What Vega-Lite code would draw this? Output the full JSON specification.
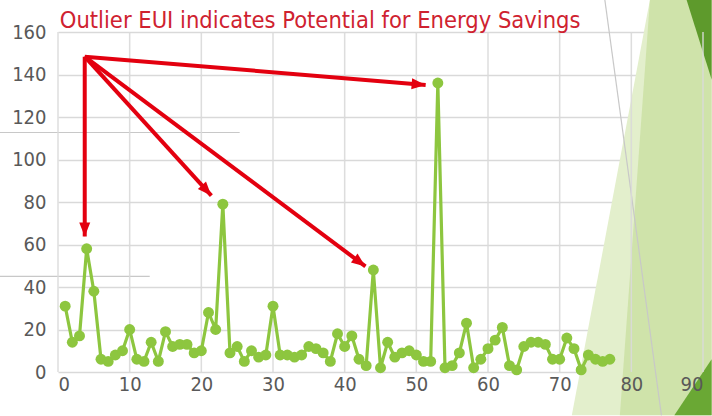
{
  "$schema": "https://vega.github.io/schema/vega-lite/v6.json",
  "autosize": "none",
  "width": 645,
  "height": 340,
  "padding": {"left": 58, "top": 32, "right": 9, "bottom": 44},
  "background": "white",
  "config": {
    "view": {"stroke": null},
    "axis": {
      "labelFont": "DejaVu Sans Condensed",
      "labelFontSize": 20,
      "labelColor": "#595959",
      "gridColor": "#d9d9d9",
      "gridWidth": 1.5,
      "domain": false,
      "ticks": false,
      "title": null
    }
  },
  "datasets": {
    "eui": [
      {"building": 1, "eui": 31}, {"building": 2, "eui": 14}, {"building": 3, "eui": 17},
      {"building": 4, "eui": 58}, {"building": 5, "eui": 38}, {"building": 6, "eui": 6},
      {"building": 7, "eui": 5}, {"building": 8, "eui": 8}, {"building": 9, "eui": 10},
      {"building": 10, "eui": 20}, {"building": 11, "eui": 6}, {"building": 12, "eui": 5},
      {"building": 13, "eui": 14}, {"building": 14, "eui": 5}, {"building": 15, "eui": 19},
      {"building": 16, "eui": 12}, {"building": 17, "eui": 13}, {"building": 18, "eui": 13},
      {"building": 19, "eui": 9}, {"building": 20, "eui": 10}, {"building": 21, "eui": 28},
      {"building": 22, "eui": 20}, {"building": 23, "eui": 79}, {"building": 24, "eui": 9},
      {"building": 25, "eui": 12}, {"building": 26, "eui": 5}, {"building": 27, "eui": 10},
      {"building": 28, "eui": 7}, {"building": 29, "eui": 8}, {"building": 30, "eui": 31},
      {"building": 31, "eui": 8}, {"building": 32, "eui": 8}, {"building": 33, "eui": 7},
      {"building": 34, "eui": 8}, {"building": 35, "eui": 12}, {"building": 36, "eui": 11},
      {"building": 37, "eui": 9}, {"building": 38, "eui": 5}, {"building": 39, "eui": 18},
      {"building": 40, "eui": 12}, {"building": 41, "eui": 17}, {"building": 42, "eui": 6},
      {"building": 43, "eui": 3}, {"building": 44, "eui": 48}, {"building": 45, "eui": 2},
      {"building": 46, "eui": 14}, {"building": 47, "eui": 7}, {"building": 48, "eui": 9},
      {"building": 49, "eui": 10}, {"building": 50, "eui": 8}, {"building": 51, "eui": 5},
      {"building": 52, "eui": 5}, {"building": 53, "eui": 136}, {"building": 54, "eui": 2},
      {"building": 55, "eui": 3}, {"building": 56, "eui": 9}, {"building": 57, "eui": 23},
      {"building": 58, "eui": 2}, {"building": 59, "eui": 6}, {"building": 60, "eui": 11},
      {"building": 61, "eui": 15}, {"building": 62, "eui": 21}, {"building": 63, "eui": 3},
      {"building": 64, "eui": 1}, {"building": 65, "eui": 12}, {"building": 66, "eui": 14},
      {"building": 67, "eui": 14}, {"building": 68, "eui": 13}, {"building": 69, "eui": 6},
      {"building": 70, "eui": 6}, {"building": 71, "eui": 16}, {"building": 72, "eui": 11},
      {"building": 73, "eui": 1}, {"building": 74, "eui": 8}, {"building": 75, "eui": 6},
      {"building": 76, "eui": 5}, {"building": 77, "eui": 6}
    ],
    "arrows": [
      {"target": "b4", "x0": 3.73, "y0": 148.4, "x1": 3.73, "y1": 63.8},
      {"target": "b23", "x0": 3.73, "y0": 148.4, "x1": 21.4, "y1": 83},
      {"target": "b44", "x0": 3.73, "y0": 148.4, "x1": 42.9, "y1": 49.7},
      {"target": "b53", "x0": 3.73, "y0": 148.4, "x1": 51.3, "y1": 135.1}
    ],
    "backdrop": [
      {"part": "light", "bx": 71.7, "top": -20.4, "bottom": -20.4},
      {"part": "light", "bx": 82.6, "top": 175.2, "bottom": -20.4},
      {"part": "light", "bx": 91.2, "top": 175.2, "bottom": -20.4},
      {"part": "mid", "bx": 78.4, "top": -20.4, "bottom": -20.4},
      {"part": "mid", "bx": 82.6, "top": 175.2, "bottom": -20.4},
      {"part": "mid", "bx": 91.2, "top": 175.2, "bottom": -20.4},
      {"part": "darktop", "bx": 87.7, "top": 175.2, "bottom": 175.2},
      {"part": "darktop", "bx": 91.2, "top": 175.2, "bottom": 137.6},
      {"part": "darkbottom", "bx": 86.0, "top": -20.4, "bottom": -20.4},
      {"part": "darkbottom", "bx": 91.2, "top": 6.0, "bottom": -20.4}
    ],
    "strokes": [
      {"sx": 76.3, "sy": 175.2, "sx2": 84.2, "sy2": -20.4},
      {"sx": -8.13, "sy": 112.7, "sx2": 25.35, "sy2": 112.7},
      {"sx": -8.13, "sy": 45.0, "sx2": 12.8, "sy2": 45.0}
    ],
    "grid": [{"g": 0}, {"g": 10}, {"g": 20}, {"g": 30}, {"g": 40}, {"g": 50}, {"g": 60}, {"g": 70}, {"g": 80}, {"g": 90}],
    "heading": [{"label": "Outlier EUI indicates Potential for Energy Savings", "hx": 0.25, "hy": 162}]
  },
  "layer": [
    {
      "data": {"name": "backdrop"},
      "transform": [{"filter": "datum.part == 'light'"}],
      "mark": {"type": "area", "color": "#e3efcc", "opacity": 1},
      "encoding": {
        "x": {"field": "bx", "type": "quantitative", "scale": {"domain": [0, 90]}, "axis": {"values": [0,10,20,30,40,50,60,70,80,90], "labelPadding": 2, "zindex": 1, "grid": false}},
        "y": {"field": "top", "type": "quantitative", "scale": {"domain": [0, 160]}, "axis": {"values": [0,20,40,60,80,100,120,140,160], "labelPadding": 12}},
        "y2": {"field": "bottom"}
      }
    },
    {
      "data": {"name": "backdrop"},
      "transform": [{"filter": "datum.part == 'mid'"}],
      "mark": {"type": "area", "color": "#cfe3aa", "opacity": 1},
      "encoding": {
        "x": {"field": "bx", "type": "quantitative"},
        "y": {"field": "top", "type": "quantitative"},
        "y2": {"field": "bottom"}
      }
    },
    {
      "data": {"name": "backdrop"},
      "transform": [{"filter": "datum.part == 'darktop'"}],
      "mark": {"type": "area", "color": "#5e9a2c", "opacity": 1},
      "encoding": {
        "x": {"field": "bx", "type": "quantitative"},
        "y": {"field": "top", "type": "quantitative"},
        "y2": {"field": "bottom"}
      }
    },
    {
      "data": {"name": "backdrop"},
      "transform": [{"filter": "datum.part == 'darkbottom'"}],
      "mark": {"type": "area", "color": "#6aa834", "opacity": 1},
      "encoding": {
        "x": {"field": "bx", "type": "quantitative"},
        "y": {"field": "top", "type": "quantitative"},
        "y2": {"field": "bottom"}
      }
    },
    {
      "data": {"name": "strokes"},
      "mark": {"type": "rule", "color": "#c8c8c8", "strokeWidth": 1.2},
      "encoding": {
        "x": {"field": "sx", "type": "quantitative"},
        "y": {"field": "sy", "type": "quantitative"},
        "x2": {"field": "sx2"},
        "y2": {"field": "sy2"}
      }
    },
    {
      "data": {"name": "grid"},
      "mark": {"type": "rule", "color": "#d9d9d9", "strokeWidth": 1.5, "opacity": 0.9},
      "encoding": {
        "x": {"field": "g", "type": "quantitative"}
      }
    },
    {
      "data": {"name": "heading"},
      "mark": {"type": "text", "align": "left", "baseline": "alphabetic", "font": "DejaVu Sans Condensed", "fontSize": 23.5, "color": "#cf2230"},
      "encoding": {
        "x": {"field": "hx", "type": "quantitative"},
        "y": {"field": "hy", "type": "quantitative"},
        "text": {"field": "label"}
      }
    },
    {
      "data": {"name": "eui"},
      "mark": {"type": "line", "color": "#8dc63f", "strokeWidth": 3.2},
      "encoding": {
        "x": {"field": "building", "type": "quantitative"},
        "y": {"field": "eui", "type": "quantitative"}
      }
    },
    {
      "data": {"name": "eui"},
      "mark": {"type": "point", "filled": true, "color": "#8dc63f", "size": 120, "opacity": 1},
      "encoding": {
        "x": {"field": "building", "type": "quantitative"},
        "y": {"field": "eui", "type": "quantitative"}
      }
    },
    {
      "data": {"name": "arrows"},
      "mark": {"type": "rule", "color": "#e3000f", "strokeWidth": 4},
      "encoding": {
        "x": {"field": "x0", "type": "quantitative"},
        "y": {"field": "y0", "type": "quantitative"},
        "x2": {"field": "x1"},
        "y2": {"field": "y1"}
      }
    },
    {
      "data": {"name": "arrows"},
      "transform": [{"filter": "datum.target == 'b4'"}],
      "mark": {"type": "point", "shape": "M0,0L0.55,1.4L-0.55,1.4Z", "filled": true, "color": "#e3000f", "size": 400, "opacity": 1, "angle": 180},
      "encoding": {"x": {"field": "x1", "type": "quantitative"}, "y": {"field": "y1", "type": "quantitative"}}
    },
    {
      "data": {"name": "arrows"},
      "transform": [{"filter": "datum.target == 'b23'"}],
      "mark": {"type": "point", "shape": "M0,0L0.55,1.4L-0.55,1.4Z", "filled": true, "color": "#e3000f", "size": 400, "opacity": 1, "angle": 137.7},
      "encoding": {"x": {"field": "x1", "type": "quantitative"}, "y": {"field": "y1", "type": "quantitative"}}
    },
    {
      "data": {"name": "arrows"},
      "transform": [{"filter": "datum.target == 'b44'"}],
      "mark": {"type": "point", "shape": "M0,0L0.55,1.4L-0.55,1.4Z", "filled": true, "color": "#e3000f", "size": 400, "opacity": 1, "angle": 126.8},
      "encoding": {"x": {"field": "x1", "type": "quantitative"}, "y": {"field": "y1", "type": "quantitative"}}
    },
    {
      "data": {"name": "arrows"},
      "transform": [{"filter": "datum.target == 'b53'"}],
      "mark": {"type": "point", "shape": "M0,0L0.55,1.4L-0.55,1.4Z", "filled": true, "color": "#e3000f", "size": 400, "opacity": 1, "angle": 94.75},
      "encoding": {"x": {"field": "x1", "type": "quantitative"}, "y": {"field": "y1", "type": "quantitative"}}
    }
  ]
}
